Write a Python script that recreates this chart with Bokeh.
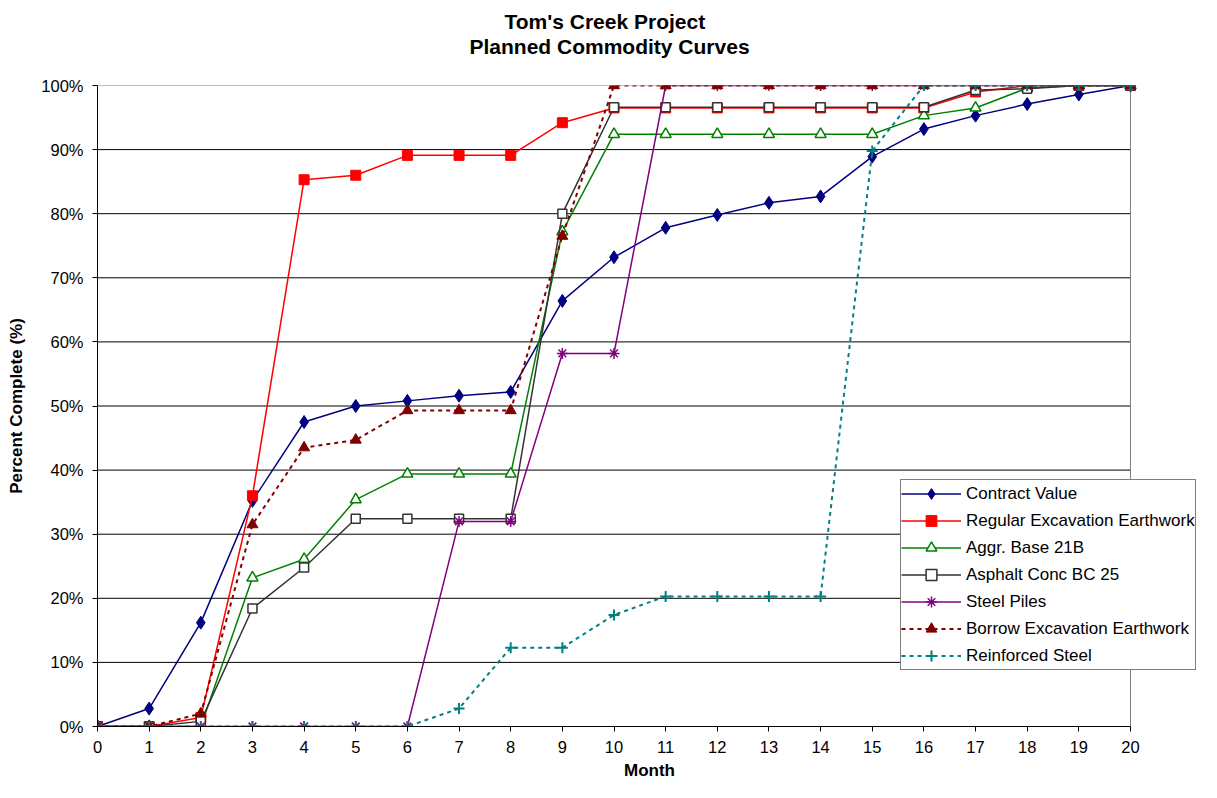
from bokeh.plotting import figure
from bokeh.models import (Legend, LegendItem, FixedTicker, PrintfTickFormatter,
                          Title, Range1d, ColumnDataSource)
from bokeh.embed import file_html
from bokeh.resources import INLINE

months = list(range(21))
contract_value = [0, 2.8, 16.2, 35.2, 47.5, 50.0, 50.8, 51.6, 52.2, 66.4, 73.2,
                  77.8, 79.8, 81.7, 82.7, 88.9, 93.2, 95.3, 97.1, 98.6, 100]
regular_excavation = [0, 0, 1.4, 36.0, 85.3, 86.0, 89.1, 89.1, 89.1, 94.2, 96.5,
                      96.5, 96.5, 96.5, 96.5, 96.5, 96.5, 99.0, 100, 100, 100]
aggr_base = [0, 0, 0, 23.2, 26.1, 35.4, 39.4, 39.4, 39.4, 77.2, 92.4,
             92.4, 92.4, 92.4, 92.4, 92.4, 95.3, 96.5, 99.6, 100, 100]
asphalt_conc = [0, 0, 0.8, 18.4, 24.8, 32.4, 32.4, 32.4, 32.4, 80.0, 96.6,
                96.6, 96.6, 96.6, 96.6, 96.6, 96.6, 99.3, 99.5, 100, 100]
steel_piles = [0, 0, 0, 0, 0, 0, 0, 32.0, 32.0, 58.2, 58.2,
               100, 100, 100, 100, 100, 100, 100, 100, 100, 100]
borrow_excavation = [0, 0, 2.0, 31.5, 43.5, 44.7, 49.3, 49.3, 49.3, 76.5, 100,
                     100, 100, 100, 100, 100, 100, 100, 100, 100, 100]
reinforced_steel = [0, 0, 0, 0, 0, 0, 0, 2.8, 12.3, 12.3, 17.4,
                    20.3, 20.3, 20.3, 20.3, 89.8, 100, 100, 100, 100, 100]

y_ticks = list(range(0, 101, 10))

FONT = "Liberation Sans"

# layout constants (pixels)
W, H = 1201, 782
LEFT, TOP = 97, 85
PLOT_W = 1033                 # width of the plotted month span
FRAME_W = W - LEFT            # frame extends right so the legend can overhang
x0, x1 = months[0], months[-1]
x_end = x0 + (x1 - x0) * FRAME_W / PLOT_W

p = figure(width=W, height=H, output_backend="svg", toolbar_location=None,
           x_range=Range1d(x0, x_end), y_range=Range1d(y_ticks[0], y_ticks[-1]),
           min_border_left=LEFT, min_border_right=0, min_border_top=TOP,
           min_border_bottom=40)
p.background_fill_color = "white"
p.border_fill_color = "white"
p.outline_line_color = None

# titles: p.title is outermost; entries of p.above are stacked from the plot outward
title_style = dict(text_font=FONT, text_font_size="21px",
                   text_font_style="bold", text_color="black")
p.title.text = "Tom's Creek Project"
p.title.align = "left"
p.title.offset = 407
p.title.standoff = 0
p.title.text_font = FONT
p.title.text_font_size = "21px"
p.title.text_font_style = "bold"
p.title.text_color = "black"
p.add_layout(Title(text=" ", align="left", standoff=3, **title_style), "above")
p.add_layout(Title(text="Planned Commodity Curves", align="left", offset=372,
                   standoff=0, **title_style), "above")

# axes
p.xaxis.ticker = FixedTicker(ticks=months)
p.xaxis.bounds = (x0, x1)
p.yaxis.ticker = FixedTicker(ticks=y_ticks)
p.yaxis.formatter = PrintfTickFormatter(format="%d%%")
for ax in (p.xaxis, p.yaxis):
    ax.axis_line_color = "black"
    ax.axis_line_width = 1
    ax.major_tick_line_color = "black"
    ax.major_tick_out = 5
    ax.major_tick_in = 0
    ax.minor_tick_line_color = None
    ax.major_label_text_font = FONT
    ax.major_label_text_font_size = "16.5px"
    ax.major_label_text_color = "black"
    ax.axis_label_text_font = FONT
    ax.axis_label_text_font_size = "17px"
    ax.axis_label_text_font_style = "bold"
    ax.axis_label_text_color = "black"
p.xaxis.axis_label = "Month"
p.yaxis.axis_label = "Percent Complete (%)"
p.xaxis.major_label_standoff = 9
p.yaxis.major_label_standoff = 9
p.xaxis.axis_label_standoff = 5
p.yaxis.axis_label_standoff = 12

p.xgrid.grid_line_color = None
p.ygrid.grid_line_color = None

# horizontal gridlines and plot-area border, limited to the month span
grid_y = y_ticks[1:-1]
p.segment(x0=[x0] * len(grid_y), x1=[x1] * len(grid_y), y0=grid_y, y1=grid_y,
          line_color="black", line_width=1)
p.segment(x0=[x0, x1], x1=[x1, x1], y0=[y_ticks[-1], y_ticks[0]],
          y1=[y_ticks[-1], y_ticks[-1]], line_color="#808080", line_width=1)

src = ColumnDataSource(dict(month=months, contract=contract_value,
                            regular=regular_excavation, aggr=aggr_base,
                            asphalt=asphalt_conc, steel=steel_piles,
                            borrow=borrow_excavation, rebar=reinforced_steel))

items = []

def series(col, label, color, marker, msize, fill, dash="solid", lw=1.5,
           mlw=1.5):
    r1 = p.line("month", col, source=src, line_color=color, line_width=lw,
                line_dash=dash)
    r2 = p.scatter("month", col, source=src, marker=marker, size=msize,
                   line_color=color, fill_color=fill, line_width=mlw)
    items.append(LegendItem(label=label, renderers=[r1, r2]))

series("contract", "Contract Value", "#000080", "diamond", 13, "#000080", mlw=1)
series("regular", "Regular Excavation Earthwork", "#FF0000", "square", 10,
       "#FF0000", mlw=1)
series("aggr", "Aggr. Base 21B", "#008000", "triangle", 11, "white")
series("asphalt", "Asphalt Conc BC 25", "#333333", "square", 9, "white")
series("steel", "Steel Piles", "#800080", "asterisk", 11, None)
series("borrow", "Borrow Excavation Earthwork", "#800000", "triangle", 11,
       "#800000", dash="4 4", lw=2, mlw=1)
series("rebar", "Reinforced Steel", "#008080", "cross", 11, None, dash="4 4",
       lw=2, mlw=2)

legend = Legend(items=items, location=(803, 56))
legend.label_text_font = FONT
legend.label_text_font_size = "17px"
legend.label_text_color = "black"
legend.glyph_width = 60
legend.glyph_height = 27
legend.label_height = 27
legend.label_standoff = 5
legend.spacing = 0
legend.padding = 0
legend.margin = 0
legend.border_line_color = "black"
legend.border_line_width = 1
legend.background_fill_color = "white"
legend.background_fill_alpha = 1
p.add_layout(legend, "center")

open("out.html", "w").write(file_html(p, INLINE))
